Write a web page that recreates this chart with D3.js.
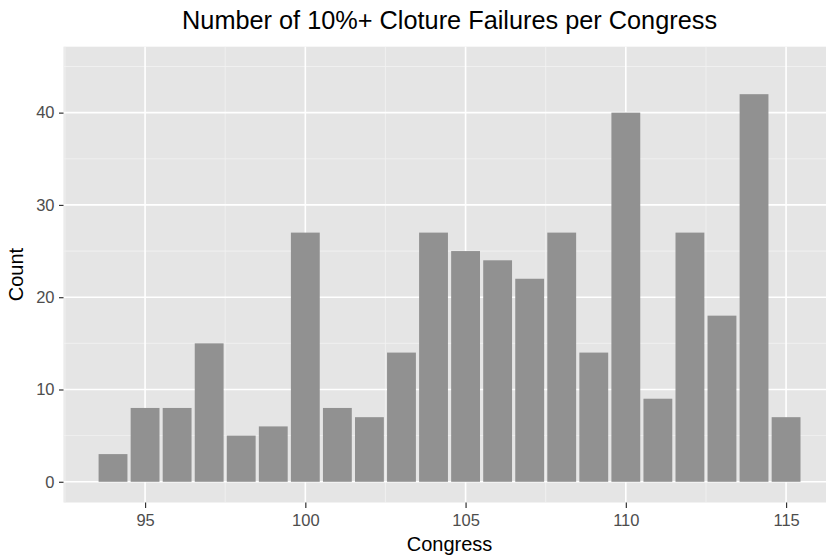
<!DOCTYPE html>
<html><head><meta charset="utf-8">
<script src="https://cdn.jsdelivr.net/npm/d3@7"></script>
<style>body{margin:0;background:#fff}text{font-family:"Liberation Sans",Arial,sans-serif}</style>
</head><body><svg id="c" width="826" height="557"></svg>
<script>
const congresses = [94,95,96,97,98,99,100,101,102,103,104,105,106,107,108,109,110,111,112,113,114,115];
const counts = [3,8,8,15,5,6,27,8,7,14,27,25,24,22,27,14,40,9,27,18,42,7];
const xTicks = [95,100,105,110,115];
const xMinor = [92.5,97.5,102.5,107.5,112.5,117.5];
const yTicks = [0,10,20,30,40];
const yMinor = [5,15,25,35,45];
const title = "Number of 10%+ Cloture Failures per Congress";

const svg = d3.select("#c");
const L=63.5, R=835.6, T=46.7, B=502.5;
const x = d3.scaleLinear().domain([92.455,116.545]).range([L,R]);
const y = d3.scaleLinear().domain([-2.245,47.145]).range([B,T]);

svg.append("rect").attr("x",L).attr("y",T).attr("width",R-L).attr("height",B-T).attr("fill","#e5e5e5");
const g = svg.append("g");
g.selectAll(".ymin").data(yMinor).join("line").attr("x1",L).attr("x2",R).attr("y1",d=>y(d)).attr("y2",d=>y(d)).attr("stroke","#f2f2f2").attr("stroke-width",0.8);
g.selectAll(".xmin").data(xMinor).join("line").attr("y1",T).attr("y2",B).attr("x1",d=>x(d)).attr("x2",d=>x(d)).attr("stroke","#f2f2f2").attr("stroke-width",0.8);
g.selectAll(".ymaj").data(yTicks).join("line").attr("x1",L).attr("x2",R).attr("y1",d=>y(d)).attr("y2",d=>y(d)).attr("stroke","#fff").attr("stroke-width",1.6);
g.selectAll(".xmaj").data(xTicks).join("line").attr("y1",T).attr("y2",B).attr("x1",d=>x(d)).attr("x2",d=>x(d)).attr("stroke","#fff").attr("stroke-width",1.6);

svg.selectAll(".bar").data(congresses).join("rect")
  .attr("x",(d)=>x(d-0.45)).attr("width",(d)=>x(d+0.45)-x(d-0.45))
  .attr("y",(d,i)=>y(counts[i])).attr("height",(d,i)=>y(0)-y(counts[i]))
  .attr("fill","#919191");

// axes
const xa = svg.append("g").attr("transform",`translate(0,${B})`)
  .call(d3.axisBottom(x).tickValues(xTicks).tickSize(5.5).tickPadding(6.5).tickFormat(d3.format("d")));
xa.select(".domain").remove();
xa.selectAll("line").attr("stroke","#333").attr("stroke-width",1.2);
xa.selectAll("text").attr("fill","#4d4d4d").style("font-size","16.5px").style("font-family","Liberation Sans, Arial, sans-serif");
const ya = svg.append("g").attr("transform",`translate(${L},0)`)
  .call(d3.axisLeft(y).tickValues(yTicks).tickSize(4.5).tickPadding(4.5).tickFormat(d3.format("d")));
ya.select(".domain").remove();
ya.selectAll("line").attr("stroke","#333").attr("stroke-width",1.2);
ya.selectAll("text").attr("fill","#4d4d4d").style("font-size","16.5px").style("font-family","Liberation Sans, Arial, sans-serif");

svg.append("text").attr("x",(L+R)/2).attr("y",29).attr("text-anchor","middle").style("font-size","25.3px").attr("fill","#000").text(title);
svg.append("text").attr("x",(L+R)/2).attr("y",551).attr("text-anchor","middle").style("font-size","20px").attr("fill","#000").text("Congress");
svg.append("text").attr("transform",`translate(23,${(T+B)/2}) rotate(-90)`).attr("text-anchor","middle").style("font-size","20px").attr("fill","#000").text("Count");
</script></body></html>
